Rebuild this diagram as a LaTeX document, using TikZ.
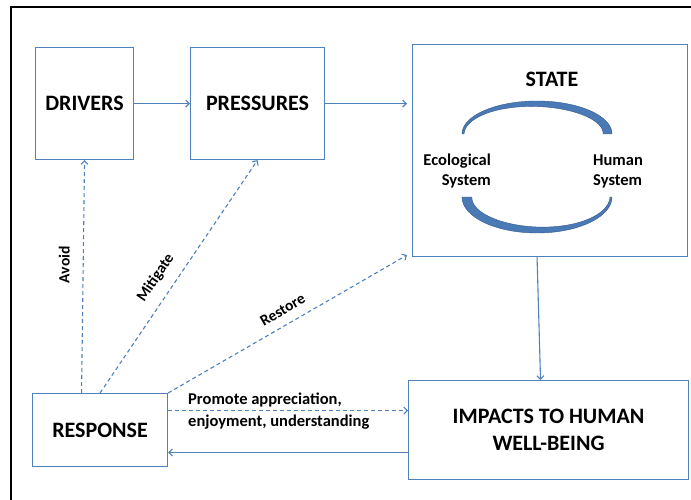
\documentclass[tikz,border=0pt]{standalone}
\usepackage{fontspec}
\setmainfont{Carlito}
\usetikzlibrary{arrows.meta,calc}
\definecolor{lb}{RGB}{79,129,189}
\definecolor{arcfill}{RGB}{74,122,182}
\definecolor{arcedge}{RGB}{50,88,140}
\begin{document}
\begin{tikzpicture}[x=1pt,y=-1pt,
  box/.style={draw=lb,line width=1.1pt,inner sep=0pt,anchor=north west},
  conn/.style={draw=lb,line width=1.1pt,-{Straight Barb[length=3.5pt,width=7pt]}},
  dconn/.style={conn,dash pattern=on 4pt off 3pt},
  big/.style={font=\fontsize{22}{27}\selectfont\bfseries},
  mid/.style={font=\fontsize{16.5}{20}\selectfont\bfseries},
  lbl/.style={font=\fontsize{15.5}{17}\selectfont\bfseries,sloped,inner sep=1pt},
  arcstyle/.style={fill=arcfill,draw=arcedge,line width=0.4pt}
]
\useasboundingbox (0,0) rectangle (691,500);
\fill[white] (0,0) rectangle (691,500);
% frame
\draw[line width=2.5pt] (691,7) -- (11,7) -- (11,500);

% boxes
\node[box,minimum width=98pt,minimum height=112pt,big] (drv) at (35,47) {DRIVERS};
\node[box,minimum width=134pt,minimum height=112pt,big] (pres) at (190,47) {PRESSURES};
\node[box,minimum width=275pt,minimum height=212pt] (st) at (412,44) {};
\node[box,minimum width=135pt,minimum height=73pt,big] (resp) at (32,393) {RESPONSE};
\node[box,minimum width=280pt,minimum height=99pt,big,align=center] (imp) at (408,380) {IMPACTS TO HUMAN\\WELL-BEING};

% state content
\node[big] (stl) at (552,79) {STATE};
\node[mid,align=right,anchor=east,inner sep=0pt] (eco) at (491,171) {Ecological\\System};
\node[mid,align=left,anchor=west,inner sep=0pt] (hum) at (593,171) {Human\\System};

\filldraw[arcstyle] plot[domain=180:0,samples=60] ({537+75*cos(\x)},{134-33*sin(\x)})
  -- plot[domain=0:180,samples=60] ({537+(75-(2+7*(180-\x)/180))*cos(\x)},{134-(33-(2+7*(180-\x)/180))*sin(\x)}) -- cycle;
\filldraw[arcstyle] plot[domain=180:360,samples=60] ({537+75*cos(\x)},{197-36*sin(\x)})
  -- plot[domain=360:180,samples=60] ({537+(75-(10-8*(\x-180)/180))*cos(\x)},{197-(36-(10-8*(\x-180)/180))*sin(\x)}) -- cycle;

% connectors
\draw[conn] (drv.east) -- (pres.west);
\draw[conn,shorten >=5pt] (pres.east) -- (st.west |- pres.east);
\draw[conn] ([xshift=-13pt]st.south) -- ([xshift=-8pt]imp.north);
\draw[conn] ([yshift=-22.5pt]imp.west) -- ([yshift=-22.5pt]resp.east);
\draw[dconn] ([yshift=19.5pt]resp.east) -- ([yshift=19.5pt]imp.west);
\node[mid,anchor=west,align=left,inner sep=0pt,font=\fontsize{16.5}{22}\selectfont\bfseries] (prom) at (188,411) {Promote appreciation,\\enjoyment, understanding};

\draw[dconn] ([xshift=-18.5pt]resp.north) -- (drv.south) node[lbl,pos=0.55,above=12pt] (lavoid) {Avoid};
\draw[dconn] (resp.north) -- (pres.south) node[lbl,pos=0.45,above=10pt] (lmit) {Mitigate};
\draw[dconn] (resp.north east) -- ([xshift=-5pt,yshift=2pt]st.south west) node[lbl,pos=0.51,above=8pt] (lres) {Restore};
\end{tikzpicture}
\end{document}
